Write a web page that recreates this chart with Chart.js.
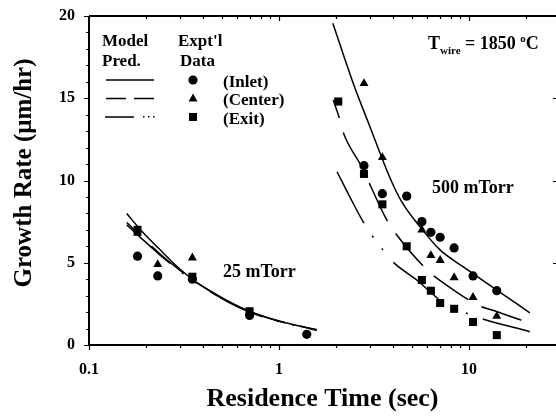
<!DOCTYPE html>
<html>
<head>
<meta charset="utf-8">
<script src="https://cdn.jsdelivr.net/npm/chart.js@4"></script>
<style>
  body { margin: 0; background: #fff; }
  canvas { display: block; }
</style>
</head>
<body>
<canvas id="growthChart" width="556" height="420"></canvas>
<script>
// Experimental data (residence time in sec, growth rate in um/hr)
const inletX = [0.18, 0.23, 0.35, 0.70, 1.40, 2.8, 3.5, 4.7, 5.65, 6.3, 7.05, 8.35, 10.5, 14];
const inletY = [5.4, 4.2, 4.0, 1.8, 0.65, 10.9, 9.2, 9.05, 7.5, 6.85, 6.55, 5.9, 4.2, 3.3];

const centerX = [0.18, 0.23, 0.35, 0.70, 2.8, 3.5, 5.65, 6.3, 7.05, 8.35, 10.5, 14];
const centerY = [6.8, 4.9, 5.3, 2.0, 15.9, 11.4, 7.0, 5.45, 5.15, 4.1, 2.9, 1.75];

const exitX = [0.18, 0.35, 0.70, 2.05, 2.8, 3.5, 4.7, 5.65, 6.3, 7.05, 8.35, 10.5, 14];
const exitY = [7.0, 4.15, 2.05, 14.8, 10.4, 8.55, 6.0, 3.95, 3.3, 2.55, 2.2, 1.4, 0.6];

// Model predictions, 25 mTorr
const model25X = [0.158, 0.182, 0.236, 0.289, 0.354, 0.433, 0.553, 0.70, 0.97, 1.58];
const solid25Y = [8.0, 7.15, 5.8, 4.8, 3.95, 3.3, 2.6, 2.05, 1.5, 0.91];
const dashed25Y = [7.45, 6.75, 5.55, 4.7, 3.93, 3.28, 2.58, 2.03, 1.49, 0.93];
const dashdot25Y = [7.3, 6.65, 5.48, 4.65, 3.89, 3.25, 2.55, 2.0, 1.46, 0.89];

// Model predictions, 500 mTorr
const solid500X = [1.92, 2.46, 3.01, 3.84, 4.42, 5.52, 7.04, 9.3, 14.0, 20.9];
const solid500Y = [19.56, 15.9, 13.27, 10.15, 8.71, 7.19, 5.78, 4.76, 3.34, 1.96];
const dashed500X = [1.93, 2.08, 2.17, 2.72, 3.69, 4.13, 6.08, 7.18, 11.4, 13.2, 20.9];
const dashed500Y = [14.89, 13.78, 12.97, 10.84, 7.6, 6.75, 4.52, 3.85, 2.37, 2.13, 1.32];
const dashdot500X = [2.02, 2.36, 2.77, 3.07, 3.43, 3.92, 5.31, 7.04, 9.72, 11.4, 20.9];
const dashdot500Y = [10.53, 9.0, 7.5, 6.69, 5.96, 5.12, 3.95, 2.74, 1.93, 1.64, 0.81];

const yTicks = [0, 5, 10, 15, 20];
const xLabels = [0.1, 1, 10];
const xMin = 0.1, xMax = 28.7;

const SERIF = "'Liberation Serif', 'Times New Roman', serif";
const DASH = [42, 15];
const DASHDOT = [58, 15, 2, 14, 2, 16];

function pts(xs, ys) {
    return xs.map((x, i) => ({ x: x, y: ys[i] }));
}

function markerSet(xs, ys, style, r) {
    return {
        data: pts(xs, ys),
        showLine: false,
        pointStyle: style,
        pointRadius: r,
        backgroundColor: '#000',
        borderColor: '#000',
        borderWidth: 0
    };
}

function modelLine(xs, ys, dash, offset) {
    return {
        data: pts(xs, ys),
        showLine: true,
        pointRadius: 0,
        borderColor: '#000',
        borderWidth: 1.5,
        borderDash: dash,
        borderDashOffset: offset || 0,
        cubicInterpolationMode: 'monotone',
        fill: false
    };
}

// keep the plot box where the reference has it
function noPad(s) {
    s.paddingTop = 0;
    s.paddingBottom = 0;
    s.paddingLeft = 0;
    s.paddingRight = 0;
}

// axes frame, minor ticks, legend and labels
const decorPlugin = {
    id: 'decor',
    afterDraw(chart) {
        const ctx = chart.ctx;
        const xs = chart.scales.x, ys = chart.scales.y;
        const a = chart.chartArea;
        ctx.save();
        ctx.strokeStyle = '#000';
        ctx.fillStyle = '#000';

        ctx.lineWidth = 2;
        ctx.beginPath();
        ctx.moveTo(a.left, a.top); ctx.lineTo(a.right, a.top);
        ctx.moveTo(a.left, a.top); ctx.lineTo(a.left, a.bottom);
        ctx.moveTo(a.left - 1, a.bottom); ctx.lineTo(a.right, a.bottom);
        ctx.stroke();

        ctx.lineWidth = 1.2;
        ctx.beginPath();
        for (let v = 0; v <= 20; v++) {
            const py = Math.round(ys.getPixelForValue(v)) + 0.5;
            const len = v % 5 === 0 ? 5 : 3;
            ctx.moveTo(a.left - len, py); ctx.lineTo(a.left, py);
            if (v % 5 === 0 && v > 0 && v < 20) {
                ctx.moveTo(a.right - 3, py); ctx.lineTo(a.right, py);
            }
        }
        for (let d = 0.1; d < 30; d *= 10) {
            for (let m = 1; m <= 9; m++) {
                const v = d * m;
                if (v > xs.max) break;
                const px = Math.round(xs.getPixelForValue(v)) + 0.5;
                const len = m === 1 ? 5 : 3;
                ctx.moveTo(px, a.bottom); ctx.lineTo(px, a.bottom + len);
                ctx.moveTo(px, a.top); ctx.lineTo(px, a.top + (m === 1 ? 5 : 3));
            }
        }
        ctx.stroke();

        // axis titles
        ctx.textAlign = 'center';
        ctx.textBaseline = 'middle';
        ctx.font = 'bold 26px ' + SERIF;
        ctx.fillText('Residence Time (sec)', (a.left + a.right) / 2, 399);
        ctx.save();
        ctx.translate(25, 173);
        ctx.rotate(-Math.PI / 2);
        ctx.font = 'bold 25px ' + SERIF;
        ctx.fillText('Growth Rate (\u03BCm/hr)', 0, 0);
        ctx.restore();

        // legend
        ctx.textAlign = 'left';
        ctx.textBaseline = 'alphabetic';
        ctx.font = 'bold 17px ' + SERIF;
        ctx.fillText('Model', 102, 46);
        ctx.fillText('Pred.', 102, 66);
        ctx.fillText("Expt'l", 178, 46);
        ctx.fillText('Data', 180, 66);
        ctx.fillText('(Inlet)', 223, 87);
        ctx.fillText('(Center)', 223, 105);
        ctx.fillText('(Exit)', 223, 124);

        ctx.lineWidth = 1.5;
        ctx.beginPath();
        ctx.moveTo(106, 80); ctx.lineTo(154, 80);
        ctx.moveTo(106, 98.5); ctx.lineTo(126, 98.5);
        ctx.moveTo(134, 98.5); ctx.lineTo(154, 98.5);
        ctx.moveTo(105, 117); ctx.lineTo(134, 117);
        ctx.stroke();
        [143, 148, 153].forEach(x => ctx.fillRect(x, 116, 1.5, 1.5));

        ctx.beginPath();
        ctx.arc(193, 80, 4.6, 0, Math.PI * 2);
        ctx.fill();
        ctx.beginPath();
        ctx.moveTo(193, 93.5); ctx.lineTo(197.5, 101.5); ctx.lineTo(188.5, 101.5);
        ctx.closePath();
        ctx.fill();
        ctx.fillRect(189, 113, 8, 8);

        // annotations
        ctx.font = 'bold 18px ' + SERIF;
        ctx.fillText('25 mTorr', 223, 277);
        ctx.fillText('500 mTorr', 432, 193);

        ctx.font = 'bold 18px ' + SERIF;
        let x = 428;
        ctx.fillText('T', x, 49);
        x += ctx.measureText('T').width;
        ctx.font = 'bold 11px ' + SERIF;
        ctx.fillText('wire', x, 54);
        x += ctx.measureText('wire').width;
        ctx.font = 'bold 18px ' + SERIF;
        ctx.fillText(' = 1850 ', x, 49);
        x += ctx.measureText(' = 1850 ').width;
        ctx.font = 'bold 11px ' + SERIF;
        ctx.fillText('o', x, 42);
        x += ctx.measureText('o').width;
        ctx.font = 'bold 18px ' + SERIF;
        ctx.fillText('C', x, 49);

        ctx.restore();
    }
};

const chart = new Chart(document.getElementById('growthChart').getContext('2d'), {
    type: 'scatter',
    data: {
        datasets: [
            markerSet(inletX, inletY, 'circle', 4.6),
            markerSet(centerX, centerY, 'triangle', 5.2),
            markerSet(exitX, exitY, 'rect', 5.7),
            modelLine(model25X, solid25Y, []),
            modelLine(model25X, dashed25Y, DASH, 23),
            modelLine(model25X, dashdot25Y, DASHDOT),
            modelLine(solid500X, solid500Y, []),
            modelLine(dashed500X, dashed500Y, DASH, 23),
            modelLine(dashdot500X, dashdot500Y, DASHDOT)
        ]
    },
    options: {
        responsive: false,
        animation: false,
        layout: { autoPadding: false, padding: { top: 16, right: 0, left: 0, bottom: 0 } },
        plugins: { legend: { display: false }, tooltip: { enabled: false } },
        scales: {
            x: {
                type: 'logarithmic',
                min: xMin,
                max: xMax,
                bounds: 'data',
                grid: { display: false, drawTicks: false },
                border: { display: false },
                afterBuildTicks: s => {
                    s.min = xMin;
                    s.max = xMax;
                    s.ticks = xLabels.map(v => ({ value: v }));
                },
                afterFit: s => { s.height = 75; noPad(s); },
                ticks: {
                    autoSkip: false,
                    maxRotation: 0,
                    padding: 15,
                    color: '#000',
                    font: { family: SERIF, size: 16, weight: 'bold' },
                    callback: v => String(v)
                }
            },
            y: {
                min: 0,
                max: 20,
                grid: { display: false, drawTicks: false },
                border: { display: false },
                afterFit: s => { s.width = 89; noPad(s); },
                afterBuildTicks: s => { s.ticks = yTicks.map(v => ({ value: v })); },
                ticks: {
                    padding: 14,
                    color: '#000',
                    font: { family: SERIF, size: 16, weight: 'bold' }
                }
            }
        }
    },
    plugins: [decorPlugin]
});
</script>
</body>
</html>
